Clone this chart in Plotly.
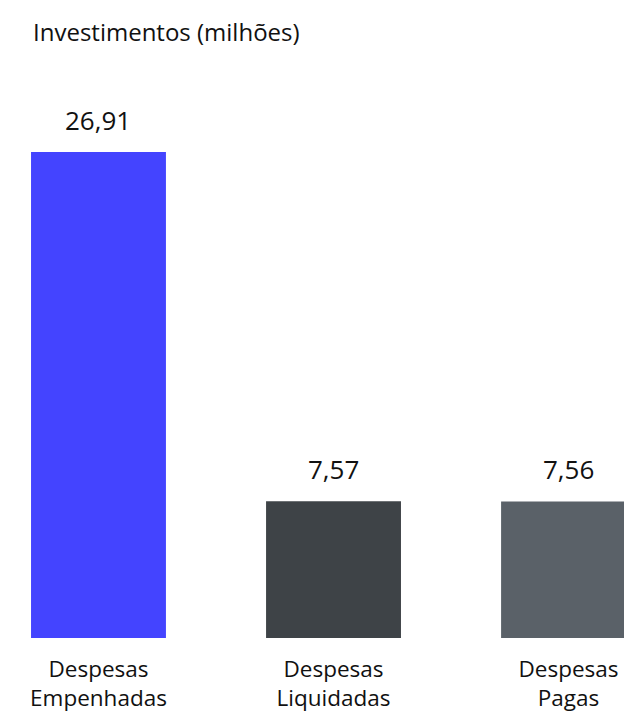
import plotly.graph_objects as go

categories = ["Despesas<br>Empenhadas", "Despesas<br>Liquidadas", "Despesas<br>Pagas"]
values = [26.91, 7.57, 7.56]
colors = ["#4444ff", "#3e4347", "#5a6168"]
title_text = "Investimentos (milhões)"

# page has an 8px body margin; figure sized so it ends at the window edge
W, H = 624, 709
FONT = "Open Sans, Noto Sans, sans-serif"

fig = go.Figure()
fig.add_trace(go.Bar(
    x=list(range(len(categories))),
    y=values,
    marker=dict(color=colors, line=dict(width=0)),
    width=0.574,
    hoverinfo="skip",
))

for i, v in enumerate(values):
    fig.add_annotation(
        x=i, y=v, xref="x", yref="y",
        text=f"{v:.2f}".replace(".", ","),
        showarrow=False, yanchor="bottom", yshift=12,
        font=dict(family=FONT, size=26, color="#111111"),
    )

fig.update_layout(
    width=W, height=H,
    margin=dict(l=0, r=0, t=100, b=79),
    paper_bgcolor="white", plot_bgcolor="white",
    showlegend=False,
    title=dict(text=title_text, x=25 / W, xanchor="left", y=1 - 25 / H, yanchor="middle",
               xref="container", yref="container",
               font=dict(family=FONT, size=24, color="#111111")),
    xaxis=dict(
        range=[-0.385, 2.270],
        tickmode="array",
        tickvals=list(range(len(categories))),
        ticktext=categories,
        showgrid=False, zeroline=False, showline=False, ticks="",
        ticklabelstandoff=15,
        tickfont=dict(family=FONT, size=22.5, color="#111111"),
        fixedrange=True,
    ),
    yaxis=dict(range=[0, 29.35], visible=False, showgrid=False, zeroline=False, fixedrange=True),
)

fig.write_html("out.html", config={"displayModeBar": False})
